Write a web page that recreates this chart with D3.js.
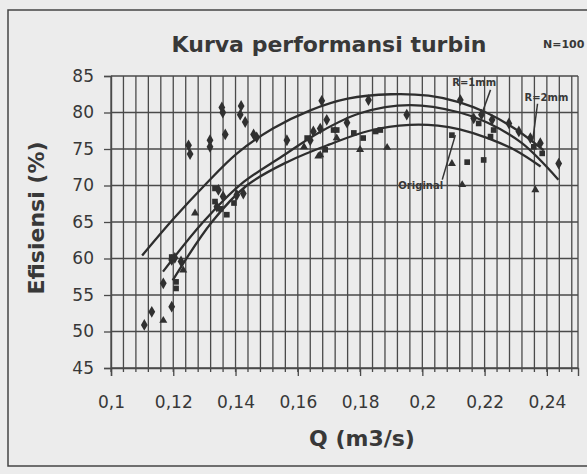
<!DOCTYPE html>
<html>
<head>
<meta charset="utf-8">
<script src="https://cdn.jsdelivr.net/npm/d3@7"></script>
<style>
  body { margin: 0; background: #ececec; }
  svg { display: block; font-family: "DejaVu Sans", Verdana, sans-serif; }
</style>
</head>
<body>
<svg width="587" height="474"></svg>
<script>
// tick labels
var qTicks = [0.1, 0.12, 0.14, 0.16, 0.18, 0.2, 0.22, 0.24];
var effTicks = [45, 50, 55, 60, 65, 70, 75, 80, 85];

// trend lines [Q, efisiensi]
var curveR2 = [[0.110, 60.4], [0.120, 65.4], [0.130, 70.0], [0.1405, 74.4], [0.152, 77.8], [0.164, 80.3],
  [0.176, 81.9], [0.19, 82.5], [0.202, 82.3], [0.212, 81.4], [0.221, 79.9], [0.230, 77.7], [0.239, 74.8]];
var curveR1 = [[0.1167, 58.2], [0.1296, 65], [0.1415, 70.1], [0.155, 74], [0.167, 77.3], [0.18, 79.9],
  [0.196, 81.0], [0.212, 80.0], [0.221, 78.6], [0.232, 75.8], [0.2437, 70.8]];
var curveOri = [[0.1198, 57], [0.1324, 65], [0.1436, 70], [0.157, 73.3], [0.170, 75.6], [0.183, 77.5],
  [0.196, 78.3], [0.205, 78.2], [0.212, 77.7], [0.221, 76.5], [0.230, 74.8], [0.238, 72.6]];

// measured points
var ptsR2 = [[0.1107, 50.9], [0.1131, 52.7], [0.1168, 56.6], [0.1195, 59.8], [0.1195, 53.4], [0.1249, 75.5],
  [0.1254, 74.3], [0.1318, 76.2], [0.1318, 75.3], [0.1356, 80.7], [0.1359, 80.0], [0.1367, 77.0],
  [0.1418, 80.9], [0.1415, 79.7], [0.1431, 78.7], [0.1458, 77.0], [0.1468, 76.6], [0.1565, 76.2],
  [0.1677, 81.6], [0.1693, 79.0], [0.1758, 78.6], [0.1827, 81.7], [0.195, 79.7], [0.2122, 81.7],
  [0.2165, 79.2], [0.219, 79.7], [0.2224, 79.0], [0.2278, 78.5], [0.231, 77.4], [0.2347, 76.5],
  [0.2379, 75.8], [0.2438, 73.0], [0.134, 67.1], [0.1345, 69.4], [0.136, 68.5], [0.1404, 68.7],
  [0.1425, 68.9], [0.164, 76.2], [0.165, 77.4], [0.1672, 77.8], [0.1205, 60.1], [0.1225, 59.6]];
var ptsR1 = [[0.1209, 56.8], [0.1209, 55.9], [0.1195, 60.2], [0.1334, 67.8], [0.1334, 69.6], [0.1372, 66.0],
  [0.1395, 67.6], [0.1352, 66.8], [0.163, 76.5], [0.1688, 74.9], [0.1715, 77.6], [0.1725, 77.6],
  [0.178, 77.2], [0.181, 76.5], [0.185, 77.4], [0.1865, 77.6], [0.2144, 73.2], [0.2197, 73.5],
  [0.2181, 78.5], [0.2229, 77.6], [0.2219, 76.7], [0.2358, 75.3], [0.2385, 74.4], [0.2095, 76.9]];
var ptsOri = [[0.1168, 51.5], [0.1232, 58.4], [0.127, 66.2], [0.1666, 74.0], [0.1672, 74.2], [0.180, 74.9],
  [0.1887, 75.2], [0.2095, 73.0], [0.2128, 70.1], [0.2363, 69.4], [0.162, 75.3], [0.1725, 76.5]];

// annotation labels: [text, label Q, label eff, leader from Q, eff, leader to Q, eff]
var notes = [
  ['R=1mm', 0.2096, 83.6, 0.2219, 83.1, 0.219, 79.7],
  ['R=2mm', 0.2328, 81.6, 0.237, 81.2, 0.2354, 76.0],
  ['Original', 0.1923, 69.5, 0.2064, 70.8, 0.2106, 76.9]
];

var svg = d3.select('svg');
var ink = '#383838';

var x = d3.scaleLinear().domain([0.1, 0.25]).range([111, 578]);
var y = d3.scaleLinear().domain([45, 85]).range([368, 76]);

// chart border
svg.append('rect')
  .attr('x', 8).attr('y', 10).attr('width', 640).attr('height', 456)
  .attr('fill', 'none').attr('stroke', '#444').attr('stroke-width', 1.5);

// grid
var minor = d3.range(0.1, 0.2501, 0.004);
svg.append('g')
  .selectAll('line')
  .data(minor)
  .enter()
  .append('line')
  .attr('x1', function(d) { return x(d); })
  .attr('x2', function(d) { return x(d); })
  .attr('y1', y(85)).attr('y2', y(45) + 4)
  .attr('stroke', '#4a4a4a').attr('stroke-width', 1.3);

svg.append('g')
  .selectAll('line')
  .data(effTicks)
  .enter()
  .append('line')
  .attr('x1', x(0.1)).attr('x2', x(0.25))
  .attr('y1', function(d) { return y(d); })
  .attr('y2', function(d) { return y(d); })
  .attr('stroke', '#4a4a4a').attr('stroke-width', 1.4);

svg.append('line')
  .attr('x1', x(0.25)).attr('x2', x(0.25)).attr('y1', y(85)).attr('y2', y(45))
  .attr('stroke', '#4a4a4a').attr('stroke-width', 1.3);

// axes
var xAxis = svg.append('g')
  .attr('transform', 'translate(0,' + y(45) + ')')
  .call(d3.axisBottom(x).tickValues(qTicks).tickSize(8).tickPadding(20)
    .tickFormat(function(d) { return String(d).replace('.', ','); }));
var yAxis = svg.append('g')
  .attr('transform', 'translate(' + x(0.1) + ',0)')
  .call(d3.axisLeft(y).tickValues(effTicks).tickSize(7).tickPadding(10));

[xAxis, yAxis].forEach(function(a) {
  a.select('.domain').attr('stroke', '#4a4a4a').attr('stroke-width', 1.4);
  a.selectAll('.tick line').attr('stroke', '#4a4a4a').attr('stroke-width', 1.3);
  a.selectAll('.tick text').attr('fill', ink).style('font-size', '17px').style('font-family', '"DejaVu Sans", sans-serif');
});

// trend lines
var line = d3.line()
  .x(function(d) { return x(d[0]); })
  .y(function(d) { return y(d[1]); })
  .curve(d3.curveCatmullRom.alpha(0.5));

svg.append('g')
  .selectAll('path')
  .data([curveR2, curveR1, curveOri])
  .enter()
  .append('path')
  .attr('d', line)
  .attr('fill', 'none')
  .attr('stroke', '#2e2e2e')
  .attr('stroke-width', 2.3);

// markers
function marks(data, type, size) {
  svg.append('g')
    .selectAll('path')
    .data(data)
    .enter()
    .append('path')
    .attr('d', d3.symbol().type(type).size(size))
    .attr('transform', function(d) { return 'translate(' + x(d[0]) + ',' + y(d[1]) + ')'; })
    .attr('fill', '#303030');
}
marks(ptsR2, d3.symbolDiamond, 40);
marks(ptsR1, d3.symbolSquare, 32);
marks(ptsOri, d3.symbolTriangle, 28);

// annotations
var note = svg.append('g').selectAll('g').data(notes).enter().append('g');
note.append('line')
  .attr('x1', function(d) { return x(d[3]); })
  .attr('y1', function(d) { return y(d[4]); })
  .attr('x2', function(d) { return x(d[5]); })
  .attr('y2', function(d) { return y(d[6]); })
  .attr('stroke', '#333').attr('stroke-width', 1.5);
note.append('text')
  .attr('x', function(d) { return x(d[1]); })
  .attr('y', function(d) { return y(d[2]); })
  .attr('fill', ink)
  .style('font-size', '10px')
  .style('font-weight', 'bold')
  .text(function(d) { return d[0]; });

// titles
svg.append('text')
  .attr('x', 329).attr('y', 52)
  .attr('text-anchor', 'middle')
  .attr('fill', ink)
  .style('font-size', '22px').style('font-weight', 'bold')
  .text('Kurva performansi turbin');

svg.append('text')
  .attr('x', 543).attr('y', 48)
  .attr('fill', ink)
  .style('font-size', '11px').style('font-weight', 'bold')
  .text('N=100');

svg.append('text')
  .attr('x', 362).attr('y', 446)
  .attr('text-anchor', 'middle')
  .attr('fill', ink)
  .style('font-size', '22px').style('font-weight', 'bold')
  .text('Q (m3/s)');

svg.append('text')
  .attr('transform', 'translate(44,218) rotate(-90)')
  .attr('text-anchor', 'middle')
  .attr('fill', ink)
  .style('font-size', '22px').style('font-weight', 'bold')
  .text('Efisiensi (%)');
</script>
</body>
</html>
